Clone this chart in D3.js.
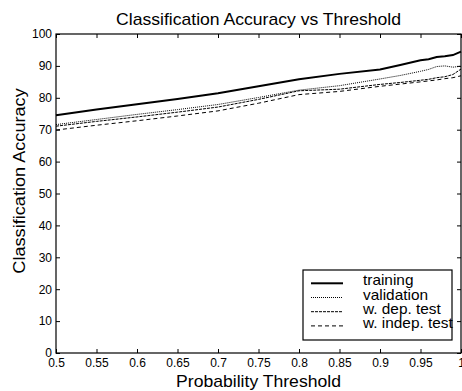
<!DOCTYPE html>
<html>
<head>
<meta charset="utf-8">
<script src="https://cdn.jsdelivr.net/npm/d3@7"></script>
<style>
  body { margin: 0; background: #fff; }
  svg { display: block; font-family: "Liberation Sans", Arial, sans-serif; }
</style>
</head>
<body>
<div id="chart"></div>
<script>
'use strict';

// thresholds where the curves were read
const thresholds = [0.5, 0.55, 0.6, 0.65, 0.7, 0.75, 0.8, 0.85, 0.9, 0.925, 0.95, 0.96, 0.97, 0.98, 0.99, 1.0];
const training   = [74.5, 76.3, 78.0, 79.6, 81.4, 83.6, 85.8, 87.5, 88.9, 90.3, 91.8, 92.1, 92.8, 93.0, 93.4, 94.5];
const validation = [71.6, 73.2, 74.8, 76.3, 77.9, 80.1, 82.4, 83.8, 85.9, 87.0, 88.3, 88.9, 89.8, 90.0, 89.6, 89.9];
const depTest    = [71.1, 72.6, 74.0, 75.5, 77.1, 79.5, 82.2, 82.7, 84.2, 84.8, 85.5, 85.8, 86.3, 86.6, 87.3, 89.0];
const indepTest  = [69.9, 71.4, 72.8, 74.3, 75.9, 78.3, 81.0, 82.0, 83.6, 84.3, 85.0, 85.3, 85.6, 86.0, 86.3, 86.9];

const seriesNames = ["training", "validation", "w. dep. test", "w. indep. test"];
const xTicks = [0.5, 0.55, 0.6, 0.65, 0.7, 0.75, 0.8, 0.85, 0.9, 0.95, 1];
const yTicks = [0, 10, 20, 30, 40, 50, 60, 70, 80, 90, 100];

const width = 462, height = 391;
const margin = {left: 56, right: 1, top: 34, bottom: 38};
// the original's font runs a bit wider than Liberation Sans
const stretch = 1.1;

const svg = d3.select("#chart").append("svg")
    .attr("width", width)
    .attr("height", height);

const x = d3.scaleLinear().domain([0.5, 1]).range([margin.left, width - margin.right]);
const y = d3.scaleLinear().domain([0, 100]).range([height - margin.bottom, margin.top]);

// line styles per series
const styles = [
    {width: 2, dash: null},
    {width: 1, dash: "1,1"},
    {width: 1, dash: "3,1"},
    {width: 1, dash: "4,3"}
];
const allSeries = [training, validation, depTest, indepTest];

// axes with inward ticks on all four sides
const fmt = d => String(d);
svg.append("g")
    .attr("class", "axis")
    .attr("transform", "translate(0," + y(0) + ")")
    .call(d3.axisBottom(x).tickValues(xTicks).tickFormat(fmt).tickSize(-4).tickPadding(5));
svg.append("g")
    .attr("class", "axis")
    .attr("transform", "translate(0," + y(100) + ")")
    .call(d3.axisTop(x).tickValues(xTicks).tickFormat("").tickSize(-4));
svg.append("g")
    .attr("class", "axis")
    .attr("transform", "translate(" + x(0.5) + ",0)")
    .call(d3.axisLeft(y).tickValues(yTicks).tickFormat(fmt).tickSize(-4).tickPadding(4));
svg.append("g")
    .attr("class", "axis")
    .attr("transform", "translate(" + x(1) + ",0)")
    .call(d3.axisRight(y).tickValues(yTicks).tickFormat("").tickSize(-4));

svg.selectAll(".axis .domain").remove();
svg.selectAll(".axis text")
    .attr("font-size", 12)
    .attr("font-family", "Liberation Sans, Arial, sans-serif")
    .attr("fill", "#000");
svg.selectAll(".axis line").attr("stroke", "#000");

// frame
svg.append("rect")
    .attr("x", x(0.5))
    .attr("y", y(100))
    .attr("width", x(1) - x(0.5))
    .attr("height", y(0) - y(100))
    .attr("fill", "none")
    .attr("stroke", "#000")
    .attr("stroke-width", 1.2);

// curves
const line = d3.line()
    .x((d, i) => x(thresholds[i]))
    .y(d => y(d));

allSeries.forEach((vals, k) => {
    svg.append("path")
        .datum(vals)
        .attr("d", line)
        .attr("fill", "none")
        .attr("stroke", "#000")
        .attr("stroke-width", styles[k].width)
        .attr("stroke-dasharray", styles[k].dash);
});

// title and labels
svg.append("text")
    .attr("transform", "translate(" + ((x(0.5) + x(1)) / 2) + ",25) scale(" + stretch + ",1)")
    .attr("text-anchor", "middle")
    .attr("font-size", 16)
    .text("Classification Accuracy vs Threshold");
svg.append("text")
    .attr("transform", "translate(" + ((x(0.5) + x(1)) / 2) + ",387) scale(" + stretch + ",1)")
    .attr("text-anchor", "middle")
    .attr("font-size", 16)
    .text("Probability Threshold");
svg.append("text")
    .attr("transform", "translate(25,181) rotate(-90) scale(" + stretch + ",1)")
    .attr("text-anchor", "middle")
    .attr("font-size", 16.5)
    .text("Classification Accuracy");

// legend
const legend = svg.append("g").attr("transform", "translate(303,270)");
legend.append("rect")
    .attr("width", 149)
    .attr("height", 70)
    .attr("fill", "#fff")
    .attr("stroke", "#000")
    .attr("stroke-width", 1.2);
seriesNames.forEach((name, k) => {
    const ly = 13.3 + k * 14.2;
    legend.append("line")
        .attr("x1", 8).attr("x2", 40)
        .attr("y1", ly).attr("y2", ly)
        .attr("stroke", "#000")
        .attr("stroke-width", styles[k].width)
        .attr("stroke-dasharray", styles[k].dash);
    legend.append("text")
        .attr("transform", "translate(60," + (ly + 2) + ") scale(" + stretch + ",1)")
        .attr("font-size", 14)
        .text(name);
});
</script>
</body>
</html>
